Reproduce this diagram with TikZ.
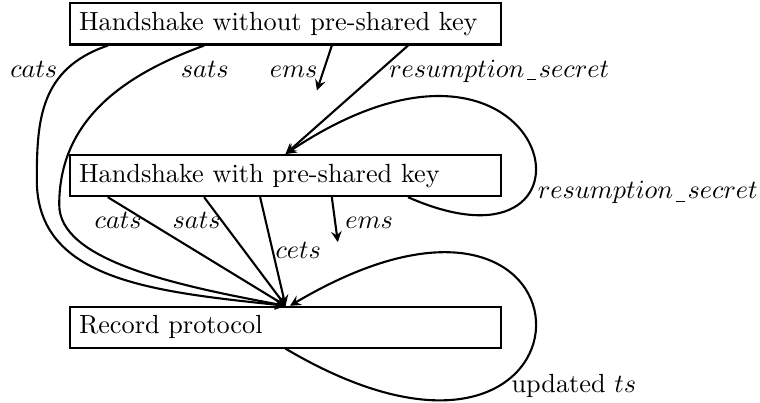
\documentclass[tikz,border=0pt]{standalone}
\usetikzlibrary{arrows}
\begin{document}
\begin{tikzpicture}[
            box/.style={rectangle, draw, thick, text width=5.53cm, align=left, inner sep=3.33pt},
            arrow/.style={->, >=stealth, thick},
            lbl/.style={anchor=base, inner sep=0pt}
        ]
            \useasboundingbox (-3.823,0.321) rectangle (6.353,-5.074);
            \node[box] (nopsk) at (0,0) {Handshake without pre-shared key};
            \node[box] (psk) at (0,-2.03) {Handshake with pre-shared key};
            \node[box] (record) at (0,-4.06) {Record protocol};
            \coordinate (ems1) at (0.42,-0.89);
            \coordinate (ems2) at (0.70,-2.92);

            % handshake without pre-shared key
            \draw[arrow] ([xshift=-2.38cm]nopsk.south) .. controls +(-0.91,-0.31) and +(0,0.80) .. (-3.33,-2.09)
                .. controls +(0,-1.34) and +(-1.78,0.19) .. (record.north);
            \draw[arrow] ([xshift=-1.09cm]nopsk.south) .. controls +(-1.07,-0.39) and +(0,1.14) .. (-3.03,-2.42)
                .. controls +(0,-0.74) and +(-1.51,0.28) .. (record.north);
            \draw[arrow] ([xshift=0.62cm]nopsk.south) -- (ems1);
            \draw[arrow] ([xshift=1.64cm]nopsk.south) -- (psk.north);
            \node[lbl] (catsa) at (-3.37,-0.71) {$cats$};
            \node[lbl] (satsa) at (-1.08,-0.71) {$sats$};
            \node[lbl] (emsa) at (0.11,-0.71) {$ems$};
            \node[lbl] (resa) at (2.86,-0.71) {$resumption\kern.1em\rule[-1.2pt]{.35em}{.5pt}\kern.1em secret$};

            % handshake with pre-shared key
            \draw[arrow] ([xshift=-2.38cm]psk.south) -- (record.north);
            \draw[arrow] ([xshift=-1.09cm]psk.south) -- (record.north);
            \draw[arrow] ([xshift=-0.34cm]psk.south) -- (record.north);
            \draw[arrow] ([xshift=0.62cm]psk.south) -- (ems2);
            \draw[arrow] ([xshift=1.64cm]psk.south) .. controls +(2.88,-1.27) and +(3.62,2.41) .. (psk.north);
            \node[lbl] (catsb) at (-2.24,-2.745) {$cats$};
            \node[lbl] (satsb) at (-1.19,-2.745) {$sats$};
            \node[lbl] (cets) at (0.17,-3.146) {$cets$};
            \node[lbl] (emsb) at (1.12,-2.745) {$ems$};
            \node[lbl] (resb) at (4.85,-2.343) {$resumption\kern.1em\rule[-1.2pt]{.35em}{.5pt}\kern.1em secret$};

            % record protocol
            \draw[arrow] (record.south) .. controls +(4.42,-2.61) and +(4.42,2.61) .. ([xshift=0.06cm]record.north);
            \node[lbl] (upd) at (3.86,-4.94) {updated $ts$};
        \end{tikzpicture}
\end{document}
